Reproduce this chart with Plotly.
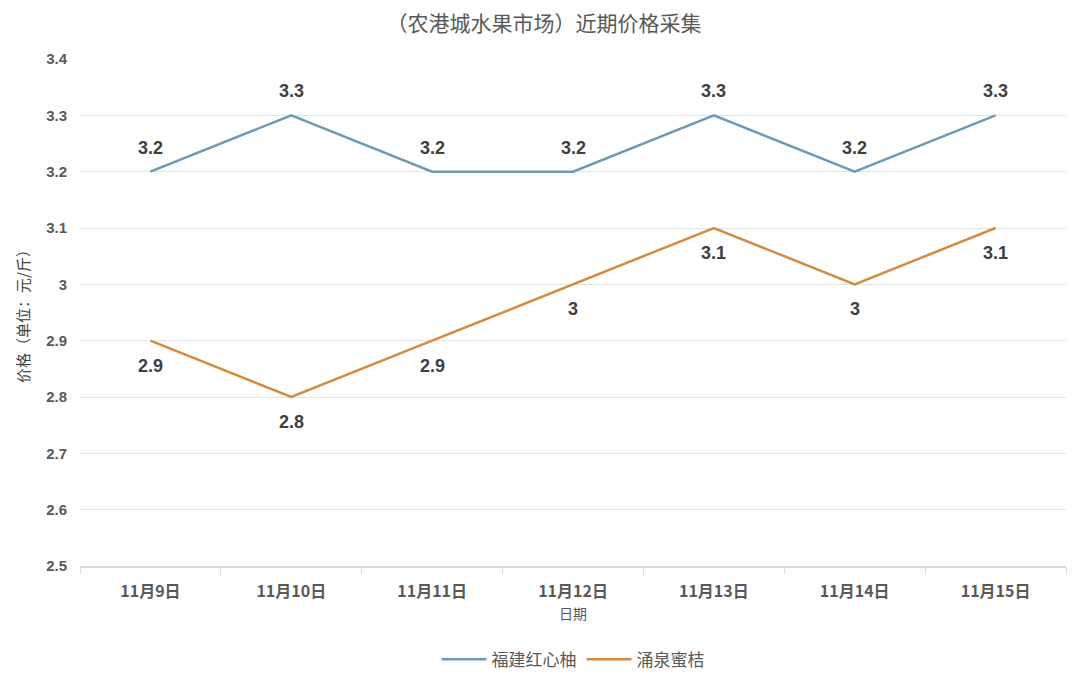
import plotly.graph_objects as go

# data
dates = ["11月9日", "11月10日", "11月11日", "11月12日", "11月13日", "11月14日", "11月15日"]
price_youzi = [3.2, 3.3, 3.2, 3.2, 3.3, 3.2, 3.3]
price_miju = [2.9, 2.8, 2.9, 3.0, 3.1, 3.0, 3.1]
y_ticks = [2.5, 2.6, 2.7, 2.8, 2.9, 3.0, 3.1, 3.2, 3.3, 3.4]
y_tick_text = ["2.5", "2.6", "2.7", "2.8", "2.9", "3", "3.1", "3.2", "3.3", "3.4"]

font_cjk = "Noto Sans CJK SC"
label_font = dict(family="Liberation Sans", size=18, color="#404040", weight="bold")

fig = go.Figure()

fig.add_trace(go.Scatter(
    x=dates, y=price_youzi, name="福建红心柚",
    mode="lines",
    line=dict(color="#6e9ab6", width=2.5),
))

fig.add_trace(go.Scatter(
    x=dates, y=price_miju, name="涌泉蜜桔",
    mode="lines",
    line=dict(color="#d68a40", width=2.5),
))

# data labels: blue above, orange below
for d, v in zip(dates, price_youzi):
    fig.add_annotation(x=d, y=v, text=f"{v:g}", showarrow=False,
                       yshift=24, font=label_font)
for d, v in zip(dates, price_miju):
    fig.add_annotation(x=d, y=v, text=f"{v:g}", showarrow=False,
                       yshift=-25, font=label_font)

# page body has an 8px margin, so the figure is drawn 8px smaller
fig.update_layout(
    width=1072, height=672,
    margin=dict(l=72, r=14, t=51, b=114, autoexpand=False),
    plot_bgcolor="white", paper_bgcolor="white",
    title=dict(text="（农港城水果市场）近期价格采集",
               font=dict(family=font_cjk, size=21, color="#595959"),
               x=0.5, xanchor="center", y=0.976, yanchor="middle"),
    legend=dict(orientation="h", x=0.5, xanchor="center", y=-0.185, yanchor="middle",
                font=dict(family=font_cjk, size=17, color="#595959"),
                itemwidth=45),
    showlegend=True,
)

fig.update_xaxes(
    type="category",
    range=[-0.5, len(dates) - 0.5],
    tickson="boundaries",
    ticks="outside", ticklen=6, tickcolor="#d9d9d9",
    showline=True, linecolor="#d9d9d9", linewidth=1.5,
    showgrid=False, automargin=False,
    ticklabelstandoff=10,
    tickfont=dict(family=font_cjk, size=16, color="#595959", weight="bold"),
    title=dict(text="日期", font=dict(family=font_cjk, size=14, color="#595959"), standoff=8),
)

fig.update_yaxes(
    range=[2.5, 3.4],
    tickvals=y_ticks, ticktext=y_tick_text,
    showgrid=True, gridcolor="#e3e3e3", gridwidth=1,
    zeroline=False, showline=False, automargin=False,
    ticks="", ticklabelstandoff=12,
    tickfont=dict(family="Liberation Sans", size=15, color="#595959", weight="bold"),
    title=dict(text="价格（单位：元/斤）", font=dict(family=font_cjk, size=15, color="#404040"), standoff=12),
)

fig.write_html("out.html")
